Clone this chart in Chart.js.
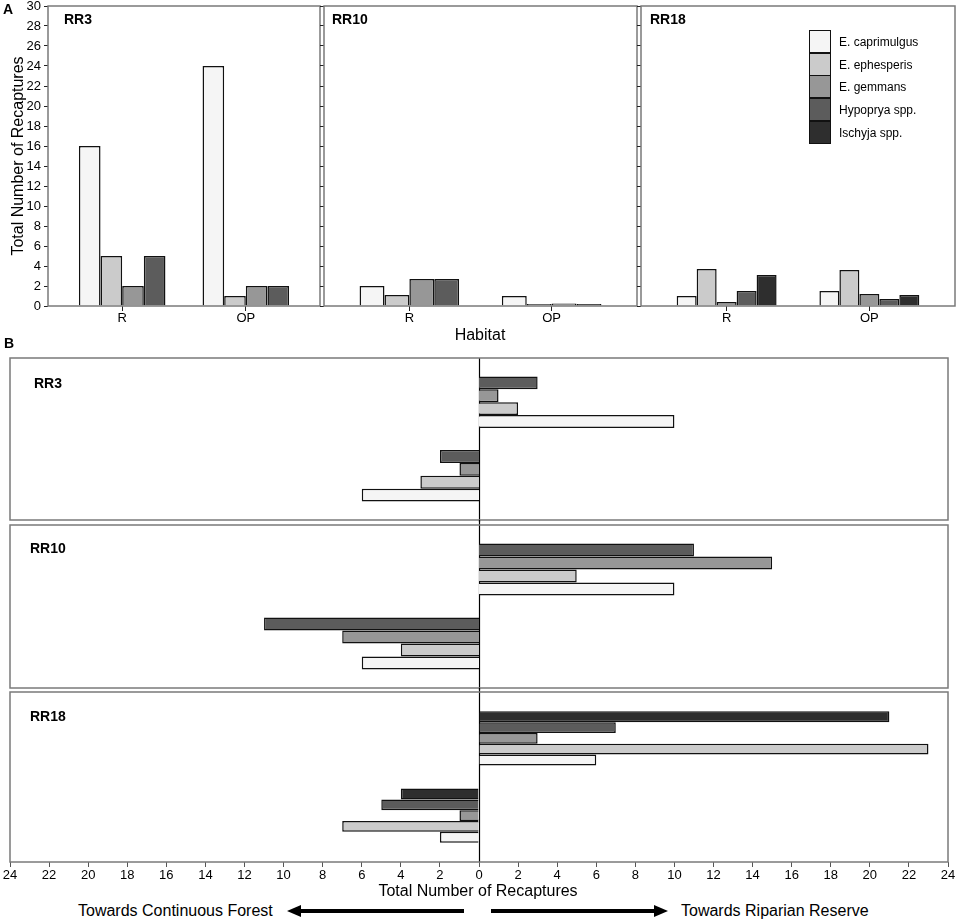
<!DOCTYPE html>
<html>
<head>
<meta charset="utf-8">
<script src="https://cdn.jsdelivr.net/npm/chart.js@4.4.1/dist/chart.umd.min.js"></script>
<style>
  body { margin: 0; background: #fff; font-family: "Liberation Sans", Arial, sans-serif; }
  #fig { position: relative; width: 957px; height: 921px; overflow: hidden; }
  .pane { position: absolute; }
  .lbl { position: absolute; white-space: nowrap; color: #000; line-height: 1; }
  .b { font-weight: bold; font-size: 14px; }
  .sw { position: absolute; box-sizing: border-box; width: 22px; height: 23px; border: 1.5px solid #111; }
</style>
</head>
<body>
<div id="fig">
  <div class="pane" style="left:0;top:0;width:322px;height:330px"><canvas id="a3"></canvas></div>
  <div class="pane" style="left:316px;top:0;width:324px;height:330px"><canvas id="a10"></canvas></div>
  <div class="pane" style="left:633px;top:0;width:324px;height:330px"><canvas id="a18"></canvas></div>
  <div class="pane" style="left:0;top:350px;width:957px;height:172px"><canvas id="b3"></canvas></div>
  <div class="pane" style="left:0;top:520px;width:957px;height:170px"><canvas id="b10"></canvas></div>
  <div class="pane" style="left:0;top:688px;width:957px;height:200px"><canvas id="b18"></canvas></div>

  <div class="lbl b" style="left:3px;top:2px">A</div>
  <div class="lbl b" style="left:64px;top:12px">RR3</div>
  <div class="lbl b" style="left:332px;top:12px">RR10</div>
  <div class="lbl b" style="left:650px;top:12px">RR18</div>
  <div class="lbl" style="left:480px;top:327px;font-size:16px;transform:translateX(-50%)">Habitat</div>
  <div id="legend"></div>

  <div class="lbl b" style="left:4px;top:336px">B</div>
  <div class="lbl b" style="left:34px;top:376px">RR3</div>
  <div class="lbl b" style="left:30px;top:541px">RR10</div>
  <div class="lbl b" style="left:30px;top:709px">RR18</div>
  <div class="lbl" style="left:478px;top:883px;font-size:16px;transform:translateX(-50%)">Total Number of Recaptures</div>
  <div class="lbl" style="left:78px;top:903px;font-size:16px">Towards Continuous Forest</div>
  <div class="lbl" style="left:681px;top:903px;font-size:16px">Towards Riparian Reserve</div>
  <svg style="position:absolute;left:0;top:900px" width="957" height="22">
    <line x1="299" y1="11" x2="464" y2="11" stroke="#000" stroke-width="4"/>
    <polygon points="287,11 301,5 301,17" fill="#000"/>
    <line x1="491" y1="11" x2="656" y2="11" stroke="#000" stroke-width="4"/>
    <polygon points="668,11 654,5 654,17" fill="#000"/>
  </svg>
</div>

<script>
// species and shades (same order in every panel)
const species = ['E. caprimulgus', 'E. ephesperis', 'E. gemmans', 'Hypoprya spp.', 'Ischyja spp.'];
const fills = ['#f5f5f5', '#cbcbcb', '#979797', '#5c5c5c', '#2e2e2e'];
const habitats = ['R', 'OP'];
const habitatPos = [1, 2];
const directionPos = [1, 2];

// panel A: recaptures per habitat
const rr3R = [16, 5, 2, 5];
const rr3OP = [24, 1, 2, 2];
const rr10R = [2, 1.1, 2.7, 2.7];
const rr10OP = [1, 0.1, 0.25, 0.1];
const rr18R = [1, 3.7, 0.4, 1.5, 3.1];
const rr18OP = [1.5, 3.6, 1.2, 0.7, 1.1];

// panel B: movement direction
const rr3Riparian = [10, 2, 1, 3];
const rr3Forest = [6, 3, 1, 2];
const rr10Riparian = [10, 5, 15, 11];
const rr10Forest = [6, 4, 7, 11];
const rr18Riparian = [6, 23, 3, 7, 21];
const rr18Forest = [2, 7, 1, 5, 4];

Chart.defaults.font.family = '"Liberation Sans", Arial, sans-serif';
Chart.defaults.color = '#000';

// grey box round the plot area, plus the zero line in panel B
const frame = {
  id: 'frame',
  beforeDatasetsDraw(chart, args, o) {
    if (!o.zero) return;
    const a = chart.chartArea, ctx = chart.ctx;
    const x0 = Math.round(chart.scales.x.getPixelForValue(0)) + 0.5;
    ctx.save();
    ctx.strokeStyle = '#000';
    ctx.lineWidth = 1.2;
    ctx.beginPath();
    ctx.moveTo(x0, a.top - o.zero[0]);
    ctx.lineTo(x0, a.bottom + o.zero[1]);
    ctx.stroke();
    ctx.restore();
  },
  afterDraw(chart) {
    const a = chart.chartArea, ctx = chart.ctx;
    ctx.save();
    ctx.strokeStyle = '#7a7a7a';
    ctx.lineWidth = 1.5;
    ctx.strokeRect(a.left, a.top, a.right - a.left, a.bottom - a.top);
    ctx.restore();
  }
};

function barStyle(i) {
  return { backgroundColor: fills[i], borderColor: '#111', borderWidth: 1.5,
           categoryPercentage: 0.7, barPercentage: 1 };
}

function panelA(id, rVals, opVals, showLabels, yWidth, padding) {
  const datasets = rVals.map((v, i) => Object.assign({
    label: species[i],
    data: [{ x: habitatPos[0], y: v }, { x: habitatPos[1], y: opVals[i] }],
    minBarLength: 2
  }, barStyle(i)));
  return new Chart(document.getElementById(id), {
    type: 'bar',
    data: { datasets },
    options: {
      responsive: true, maintainAspectRatio: false, animation: false,
      layout: { padding },
      plugins: { legend: { display: false }, tooltip: { enabled: false } },
      scales: {
        x: {
          type: 'linear', min: 0.4, max: 2.6, offset: false,
          afterBuildTicks: s => { s.ticks = habitatPos.map(v => ({ value: v })); },
          afterFit: s => { s.height = 24; s.paddingLeft = 0; s.paddingRight = 0; },
          ticks: { callback: (v, i) => habitats[i], font: { size: 13 }, padding: 0, maxRotation: 0, autoSkip: false },
          grid: { offset: false, drawOnChartArea: false, tickLength: 5, color: '#222' },
          border: { display: false }
        },
        y: {
          min: 0, max: 30,
          afterFit: s => { s.width = yWidth; s.paddingTop = 0; s.paddingBottom = 0; },
          ticks: { stepSize: 2, display: showLabels, font: { size: 13 }, padding: 3 },
          grid: { drawOnChartArea: false, tickLength: 4, color: '#222' },
          border: { display: false },
          title: { display: showLabels, text: 'Total Number of Recaptures', font: { size: 16 }, padding: { top: 9, bottom: 0 } }
        }
      }
    },
    plugins: [frame]
  });
}

function panelB(id, ripVals, forVals, showAxis, padding, zero) {
  // top of each group is the last species, bottom is E. caprimulgus
  const order = ripVals.map((_, i) => i).reverse();
  const datasets = order.map(i => Object.assign({
    label: species[i],
    data: [{ y: directionPos[0], x: ripVals[i] }, { y: directionPos[1], x: -forVals[i] }]
  }, barStyle(i)));
  return new Chart(document.getElementById(id), {
    type: 'bar',
    data: { datasets },
    options: {
      indexAxis: 'y',
      responsive: true, maintainAspectRatio: false, animation: false,
      layout: { padding },
      plugins: { legend: { display: false }, tooltip: { enabled: false }, frame: { zero } },
      scales: {
        y: {
          type: 'linear', min: 0.4, max: 2.6, reverse: true, offset: false, display: false,
          afterBuildTicks: s => { s.ticks = directionPos.map(v => ({ value: v })); },
          grid: { offset: false }
        },
        x: {
          min: -24, max: 24, display: showAxis,
          afterFit: s => { if (showAxis) s.height = 26; s.paddingLeft = 0; s.paddingRight = 0; },
          ticks: { stepSize: 2, callback: v => Math.abs(v), font: { size: 13 }, padding: 1, maxRotation: 0, autoSkip: false },
          grid: { drawOnChartArea: false, tickLength: 5, color: '#555' },
          border: { display: false }
        }
      }
    },
    plugins: [frame]
  });
}

panelA('a3', rr3R, rr3OP, true, 48, { top: 6, right: 2, left: 0, bottom: 0 });
panelA('a10', rr10R, rr10OP, false, 8, { top: 6, right: 3, left: 0, bottom: 0 });
panelA('a18', rr18R, rr18OP, false, 8, { top: 6, right: 2, left: 0, bottom: 0 });

panelB('b3', rr3Riparian, rr3Forest, false, { top: 8, bottom: 2, left: 10, right: 9 }, [0, 3]);
panelB('b10', rr10Riparian, rr10Forest, false, { top: 5, bottom: 2, left: 10, right: 9 }, [5, 2]);
panelB('b18', rr18Riparian, rr18Forest, true, { top: 4, bottom: 0, left: 10, right: 9 }, [4, 0]);

// legend inside RR18 of panel A
const legend = document.getElementById('legend');
species.forEach((name, i) => {
  const top = 30 + i * 22.7;
  const sw = document.createElement('div');
  sw.className = 'sw';
  sw.style.left = '809px';
  sw.style.top = top + 'px';
  sw.style.background = fills[i];
  legend.appendChild(sw);
  const t = document.createElement('div');
  t.className = 'lbl';
  t.style.left = '839px';
  t.style.top = (top + 6) + 'px';
  t.style.fontSize = '12px';
  t.textContent = name;
  legend.appendChild(t);
});
</script>
</body>
</html>
